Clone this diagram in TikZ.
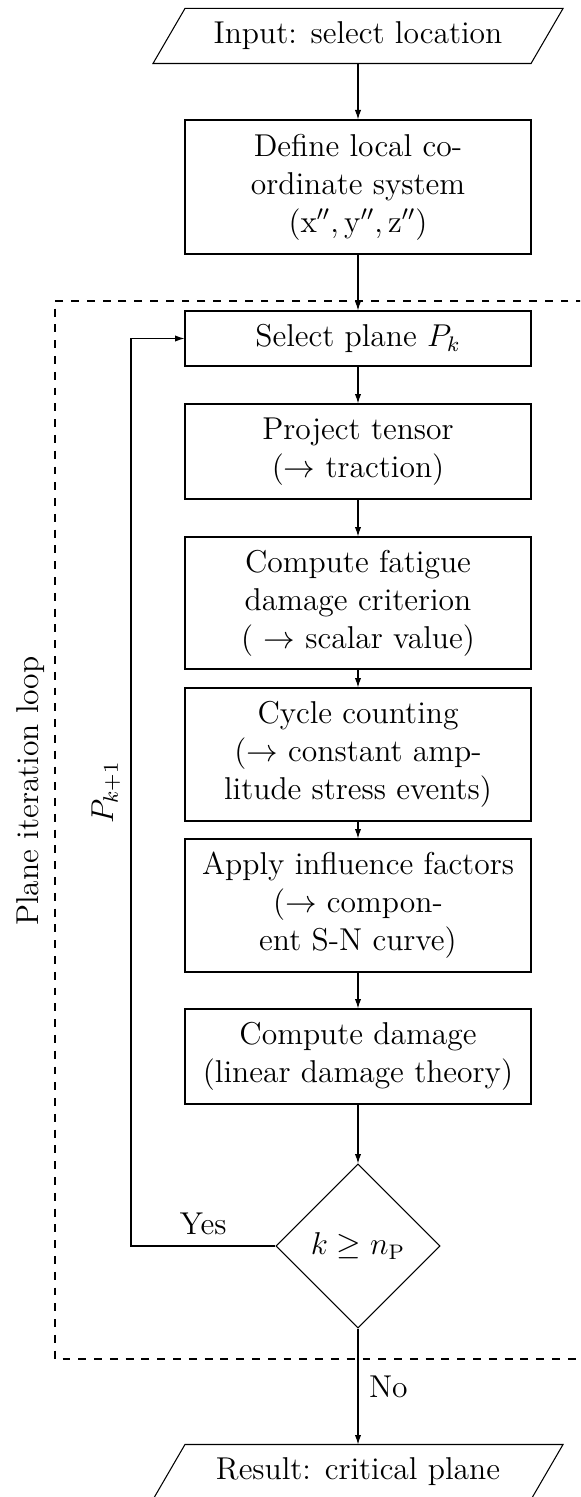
\documentclass[12pt,tikz,border=0pt]{standalone}
\usetikzlibrary{shapes.geometric,arrows.meta}
% one drawing unit
\def\pxu{0.38pt}
\tikzset{
  stepbox/.style={draw, rectangle, align=center, minimum width=346*\pxu, inner sep=0pt},
  iobox/.style={align=center, minimum width=377*\pxu, minimum height=54*\pxu, inner sep=0pt},
  decbox/.style={draw, diamond, aspect=1, minimum width=164*\pxu, minimum height=164*\pxu, inner sep=0pt},
  flow/.style={draw, -{Latex[length=3.6pt,width=2.4pt]}},
  loopframe/.style={draw, thick, dashed},
}
\begin{document}
\begin{tikzpicture}[x=\pxu, y=-\pxu]
\useasboundingbox (0,0) rectangle (580,1497);
\clip (0,0) rectangle (580,1497);

% input / output parallelograms
\node[iobox] (in) at (358,36) {Input: select location};
\draw ([xshift=16*\pxu]in.north west) -- ([xshift=16*\pxu]in.north east)
  -- ([xshift=-16*\pxu]in.south east) -- ([xshift=-16*\pxu]in.south west) -- cycle;

\node[iobox] (out) at (358,1472) {Result: critical plane};
\draw ([xshift=16*\pxu]out.north west) -- ([xshift=16*\pxu]out.north east)
  -- ([xshift=-16*\pxu]out.south east) -- ([xshift=-16*\pxu]out.south west) -- cycle;

% process steps
\node[stepbox, minimum height=134*\pxu] (def) at (358,187)
  {Define local co-\\ordinate system\\$(\mathrm{x}'',\mathrm{y}'',\mathrm{z}'')$};
\node[stepbox, minimum height=55*\pxu] (sel) at (358,338.5) {Select plane $P_k$};
\node[stepbox, minimum height=95*\pxu] (proj) at (358,451.5) {Project tensor\\($\to$ traction)};
\node[stepbox, minimum height=132*\pxu] (fat) at (358,603)
  {Compute fatigue\\damage criterion\\( $\to$ scalar value)};
\node[stepbox, minimum height=133*\pxu] (cyc) at (358,754.5)
  {Cycle counting\\($\to$ constant amp-\\litude stress events)};
\node[stepbox, minimum height=133*\pxu] (app) at (358,905.5)
  {Apply influence factors\\($\to$ compon-\\ent S-N curve)};
\node[stepbox, minimum height=95*\pxu] (dmg) at (358,1056.5)
  {Compute damage\\(linear damage theory)};
\node[decbox] (dec) at (358,1246) {$k \geq n_\mathrm{P}$};

% iteration frame
\draw[loopframe] (600,301) -- (55,301) -- (55,1359) -- (600,1359);
\node[rotate=90, anchor=base] (looplabel) at (38.5,791) {Plane iteration loop};

% connectors
\draw[flow] (in) -- (def);
\draw[flow] (def) -- (sel);
\draw[flow] (sel) -- (proj);
\draw[flow] (proj) -- (fat);
\draw[flow] (fat) -- (cyc);
\draw[flow] (cyc) -- (app);
\draw[flow] (app) -- (dmg);
\draw[flow] (dmg) -- (dec);
\draw[flow] (dec) -- node[right, inner sep=4pt] {No} (out);

\coordinate (loopx) at (131,0);
\draw[flow] (dec.west) -- node[above, inner sep=4pt] {Yes} (dec.west -| loopx)
  -- node[midway, sloped, above, inner sep=4pt] {$P_{k+1}$} (sel.west -| loopx)
  -- (sel.west);
\end{tikzpicture}
\end{document}
